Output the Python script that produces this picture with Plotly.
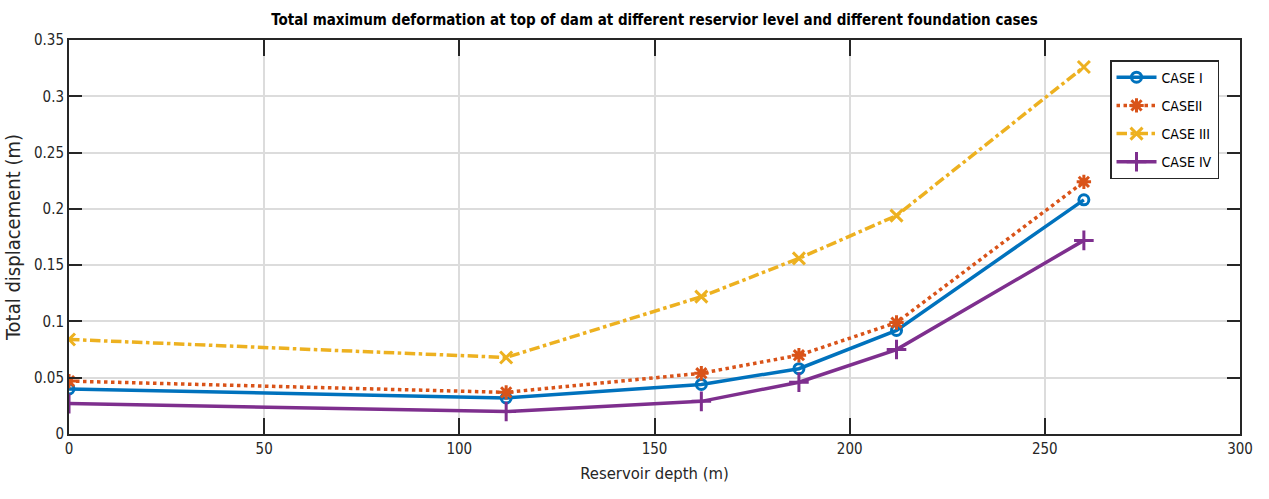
import plotly.graph_objects as go

# Reservoir depth (m)
depth = [0, 112, 162, 187, 212, 260]

# Total displacement at dam crest (m) for each foundation case
case_i = [0.040, 0.032, 0.044, 0.058, 0.092, 0.208]
case_ii = [0.047, 0.037, 0.054, 0.070, 0.099, 0.224]
case_iii = [0.084, 0.068, 0.122, 0.156, 0.194, 0.326]
case_iv = [0.027, 0.020, 0.029, 0.046, 0.075, 0.172]

series_names = ["CASE I", "CASEII", "CASE III", "CASE IV"]

FONT = "Liberation Sans Narrow, DejaVu Sans Condensed, Arial Narrow, sans-serif"

styles = [
    dict(color="#0072BD", dash="solid", symbol="circle-open", size=10),
    dict(color="#D95319", dash="dot", symbol="asterisk-open", size=12),
    dict(color="#EDB120", dash="dashdot", symbol="x-thin-open", size=12),
    dict(color="#7E2F8E", dash="solid", symbol="cross-thin-open", size=14),
]

fig = go.Figure()
for name, vals, st in zip(series_names, [case_i, case_ii, case_iii, case_iv], styles):
    fig.add_trace(go.Scatter(
        x=depth, y=vals, name=name, mode="lines+markers", legendgroup=name,
        line=dict(color=st["color"], width=3.5, dash=st["dash"]),
        marker=dict(symbol=st["symbol"], size=st["size"], color=st["color"],
                    line=dict(color=st["color"], width=3)),
    ))

axis_common = dict(
    showline=True, linecolor="#262626", linewidth=2, mirror="ticks",
    ticks="inside", tickcolor="#262626", tickwidth=2,
    showgrid=True, gridcolor="#dcdcdc", gridwidth=1.5,
    zeroline=False, tickfont=dict(family=FONT, size=15, color="#262626"),
)

fig.update_layout(
    width=1269, height=499,
    margin=dict(l=65, r=29, t=40, b=65),
    paper_bgcolor="white", plot_bgcolor="white",
    font=dict(family=FONT, color="#262626"),
    title=dict(
        text="<b>Total maximum deformation at top of dam at different reservior level and different foundation cases</b>",
        x=0.5, xref="paper", xanchor="center", y=0.96, yanchor="middle",
        font=dict(family=FONT, size=15, color="#000000"),
    ),
    xaxis=dict(range=[0, 300], tickvals=[0, 50, 100, 150, 200, 250, 300],
               ticklen=16,
               title=dict(text="Reservoir depth (m)", font=dict(family=FONT, size=16.5), standoff=10),
               **axis_common),
    yaxis=dict(range=[0, 0.35], tickvals=[0, 0.05, 0.1, 0.15, 0.2, 0.25, 0.3, 0.35],
               ticktext=["0", "0.05", "0.1", "0.15", "0.2", "0.25", "0.3", "0.35"],
               ticklen=13,
               title=dict(text="Total displacement (m)", font=dict(family=FONT, size=20), standoff=8),
               **axis_common),
    legend=dict(
        x=0.889, y=0.949, xanchor="left", yanchor="top",
        bgcolor="white", bordercolor="#262626", borderwidth=1.5,
        font=dict(family=FONT, size=14, color="#000000"),
        tracegroupgap=7, itemwidth=40,
    ),
    showlegend=True,
)

fig.write_html("out.html")
